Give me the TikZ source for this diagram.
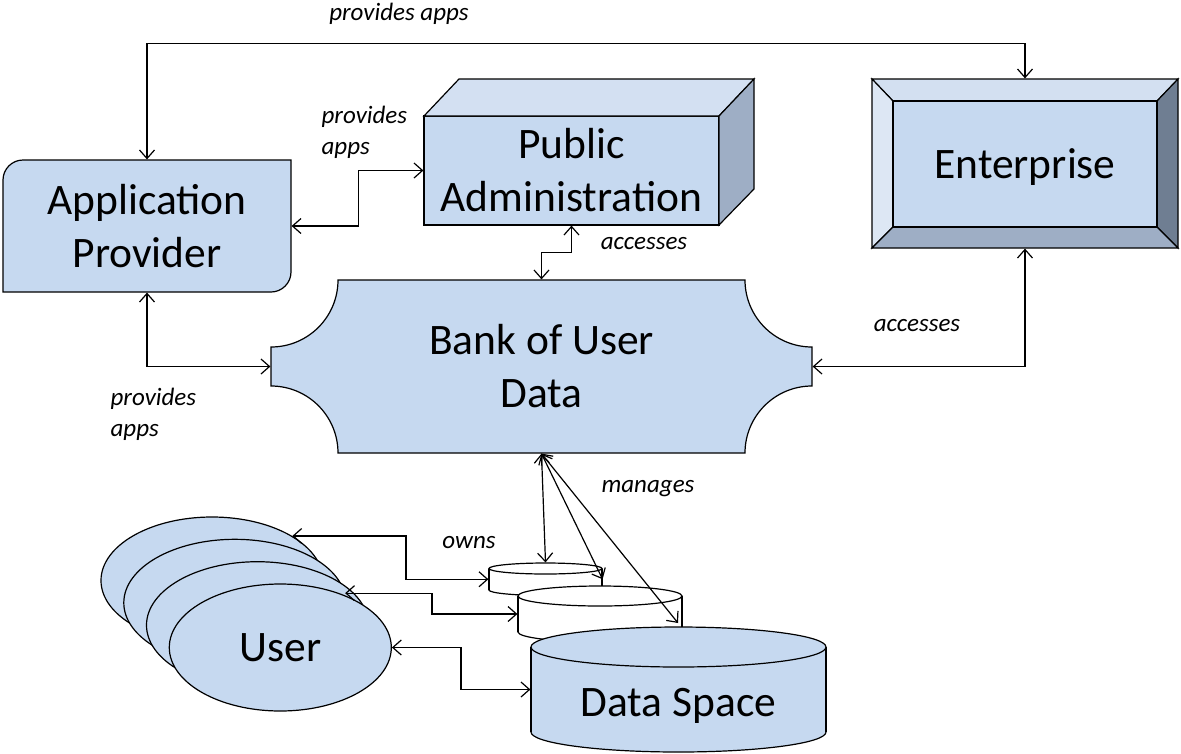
\documentclass[tikz,border=0pt]{standalone}
\usepackage{fontspec}
\setmainfont{Carlito}
\usetikzlibrary{arrows.meta,shapes.geometric,calc}
\definecolor{fillblue}{RGB}{198,217,240}
\definecolor{patop}{RGB}{211,224,242}
\definecolor{paside}{RGB}{158,174,197}
\definecolor{entleft}{RGB}{221,231,244}
\definecolor{enttop}{RGB}{211,224,241}
\definecolor{entright}{RGB}{111,126,146}
\definecolor{entbottom}{RGB}{158,174,197}
\begin{document}
\begin{tikzpicture}[x=1pt,y=-1pt,line width=1.2pt,
  >={Straight Barb[length=8.5pt,width=15pt,line width=1.2pt]},
  big/.style={font=\fontsize{43.5}{53}\selectfont, align=center, inner sep=0pt},
  lbl/.style={font=\fontsize{25}{31}\selectfont\itshape, inner sep=0pt, align=left},
  frame/.style={draw=none, inner sep=0pt},
  conn/.style={<->, line width=1.2pt},
  userell/.style={ellipse, draw, fill=fillblue, minimum width=222pt, minimum height=127pt, inner sep=0pt}]
\useasboundingbox (0,0) rectangle (1181,753);

% ---------- shapes ----------
% Application Provider
\draw[fill=fillblue] (3,292) -- (3,180) .. controls (3,169) and (12,160) .. (23,160)
  -- (291,160) -- (291,272) .. controls (291,283) and (282,292) .. (271,292) -- cycle;
% Public Administration (3D box)
\draw[fill=fillblue] (424,116) rectangle (719,225);
\draw[fill=patop] (424,116) -- (459,79) -- (754,79) -- (719,116) -- cycle;
\draw[fill=paside] (719,116) -- (754,79) -- (754,189) -- (719,225) -- cycle;
% Enterprise (bevel)
\draw[fill=enttop] (872,79) -- (1178,79) -- (1157,101) -- (893,101) -- cycle;
\draw[fill=entleft] (872,79) -- (893,101) -- (893,227) -- (872,248) -- cycle;
\draw[fill=entright] (1178,79) -- (1178,248) -- (1157,227) -- (1157,101) -- cycle;
\draw[fill=entbottom] (872,248) -- (1178,248) -- (1157,227) -- (893,227) -- cycle;
\draw[fill=fillblue] (893,101) rectangle (1157,227);
% Bank of User Data
\draw[fill=fillblue] (338,280) -- (745,280) .. controls (745,317) and (775,347) .. (812,347)
  -- (812,386) .. controls (775,386) and (745,416) .. (745,453)
  -- (338,453) .. controls (338,416) and (308,386) .. (271,386)
  -- (271,347) .. controls (308,347) and (338,317) .. (338,280) -- cycle;
% Cylinder 1
\draw[fill=white] (545.5,590) ellipse [x radius=56.5pt, y radius=5.5pt];
\fill[white] (489,568.5) rectangle (602,590);
\draw (489,568.5) -- (489,590) (602,568.5) -- (602,590);
\draw[fill=white] (545.5,568.5) ellipse [x radius=56.5pt, y radius=5.5pt];
% Cylinder 2
\draw[fill=white] (600,632) ellipse [x radius=82pt, y radius=10pt];
\fill[white] (518,596) rectangle (682,632);
\draw (518,596) -- (518,632) (682,596) -- (682,632);
\draw[fill=white] (600,596) ellipse [x radius=82pt, y radius=10pt];
% Cylinder 3 (Data Space)
\draw[fill=fillblue] (678.5,732) ellipse [x radius=147.5pt, y radius=20pt];
\fill[fillblue] (531,647) rectangle (826,732);
\draw (531,647) -- (531,732) (826,647) -- (826,732);
\draw[fill=fillblue] (678.5,647) ellipse [x radius=147.5pt, y radius=20pt];

% ---------- nodes ----------
\node[frame, big, minimum width=288pt, minimum height=132pt] (ap) at (147,226) {Application\\Provider};
\node[frame, big, minimum width=295pt, minimum height=109pt] (pa) at (571.5,170.5) {Public\\Administration};
\node[frame, big, minimum width=306pt, minimum height=169pt, text depth=0pt] (ent) at (1025,163.5) {Enterprise};
\node[frame, big, minimum width=541pt, minimum height=173pt] (bank) at (541.5,366.5) {Bank of User\\Data};
\node[userell] (u1) at (212,580.5) {};
\node[userell] (u2) at (234.8,602.8) {};
\node[userell] (u3) at (257.5,625.2) {};
\node[userell, big] (u4) at (280.3,647.5) {User};
\node[frame, minimum width=113pt, minimum height=32.5pt] (cyl1) at (545.5,579.25) {};
\node[frame, minimum width=164pt, minimum height=56pt] (cyl2) at (600,614) {};
\node[frame, big, minimum width=295pt, minimum height=125pt, text height=60pt, text depth=7pt] (cyl3) at (678.5,689.5) {Data Space};
\coordinate (m3) at (678,623);

% ---------- labels ----------
\node[lbl] (l1) at (399,14) {provides apps};
\node[lbl, anchor=west] (l2) at (321,132) {provides\\apps};
\node[lbl, anchor=west] (l3) at (110,414) {provides\\apps};
\node[lbl] (l4) at (644,244) {accesses};
\node[lbl] (l5) at (917,326) {accesses};
\node[lbl] (l6) at (648,489) {manages};
\node[lbl] (l7) at (469,543) {owns};

% ---------- connectors ----------
\draw[conn] (ap.north) -- ++(0,-116) -| (ent.north);
\draw[conn] (ap.east) -- ++(67,0) |- (pa.west);
\draw[conn] (ap.south) |- (bank.west);
\draw[conn] (pa.south) -- ++(0,27) -| (bank.north);
\draw[conn] (ent.south) |- (bank.east);
\draw[conn] (bank.south) -- (cyl1.north);
\draw[conn] (bank.south) -- (cyl1.east);
\draw[conn] (bank.south) -- (m3);
\draw[conn] (u1.29) -| (406,558) |- (cyl1.west);
\draw[conn] (u2.5) -| (432,605) |- (cyl2.west);
\draw[conn] (u4.east) -| (461,670) |- (cyl3.west);
\end{tikzpicture}
\end{document}
